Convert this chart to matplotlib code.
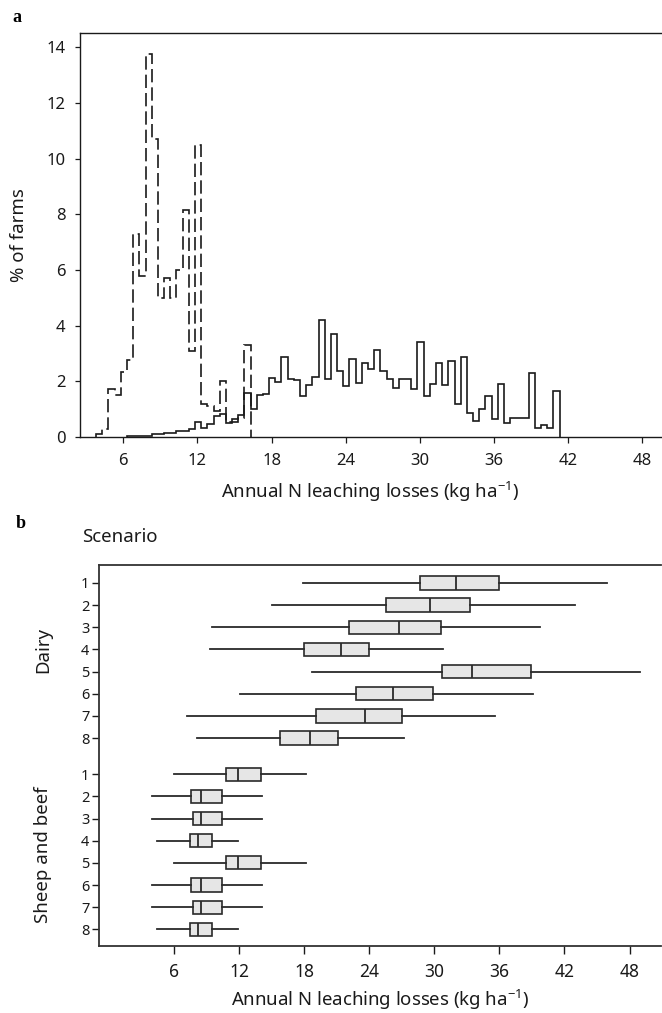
import numpy as np
import matplotlib
matplotlib.use("Agg")
import matplotlib.pyplot as plt

# ---------------- Panel a data (histograms, bin width 0.5) ----------------
dashed_start = 3.8
dashed_pct = [0.09, 0.29, 1.74, 1.5, 2.33, 2.75, 7.3, 5.8, 13.75, 10.7,
              5.0, 5.7, 5.0, 6.0, 8.15, 3.1, 10.5, 1.17, 1.12, 0.95,
              2.0, 0.55, 0.55, 0.7, 3.3]
solid_start = 6.3
solid_pct = [0.04, 0.04, 0.04, 0.04, 0.1, 0.1, 0.15, 0.15, 0.2, 0.22,
             0.3, 0.53, 0.33, 0.45, 0.77, 0.83, 0.5, 0.65, 0.8, 1.58,
             1.02, 1.5, 1.55, 2.12, 1.97, 2.87, 2.09, 2.05, 1.49, 1.85,
             2.15, 4.22, 2.1, 3.69, 2.37, 1.82, 2.79, 1.94, 2.67, 2.43,
             3.11, 2.36, 2.09, 1.77, 2.1, 2.1, 1.71, 3.41, 1.49, 1.91,
             2.67, 1.85, 2.73, 1.17, 2.87, 0.87, 0.57, 0.99, 1.49, 0.63,
             1.91, 0.51, 0.69, 0.69, 0.69, 2.31, 0.32, 0.44, 0.32, 1.65]
bin_width = 0.5
x_ticks = [6, 12, 18, 24, 30, 36, 42, 48]
y_ticks_a = [0, 2, 4, 6, 8, 10, 12, 14]

# ---------------- Panel b data (box plots) ----------------
groups = ["Dairy", "Sheep and beef"]
scenario_labels = ["1", "2", "3", "4", "5", "6", "7", "8"]
dairy_whislo = [17.9, 15.0, 9.5, 9.3, 18.7, 12.1, 7.2, 8.1]
dairy_q1 = [28.7, 25.5, 22.1, 18.0, 30.7, 22.8, 19.1, 15.8]
dairy_med = [32.0, 29.6, 26.7, 21.4, 33.5, 26.2, 23.6, 18.5]
dairy_q3 = [36.0, 33.3, 30.6, 24.0, 38.9, 29.9, 27.0, 21.1]
dairy_whishi = [45.9, 43.0, 39.7, 30.8, 49.0, 39.1, 35.6, 27.2]
sheep_whislo = [6.0, 4.0, 4.0, 4.4, 6.0, 4.0, 4.0, 4.4]
sheep_q1 = [10.8, 7.6, 7.75, 7.45, 10.8, 7.6, 7.75, 7.45]
sheep_med = [11.85, 8.5, 8.5, 8.2, 11.85, 8.5, 8.5, 8.2]
sheep_q3 = [14.0, 10.4, 10.4, 9.5, 14.0, 10.4, 10.4, 9.5]
sheep_whishi = [18.2, 14.1, 14.1, 11.9, 18.2, 14.1, 14.1, 11.9]

plt.rcParams['font.family'] = ['Noto Sans', 'DejaVu Sans']
plt.rcParams['mathtext.fontset'] = 'custom'
plt.rcParams['mathtext.rm'] = 'Noto Sans'

W, H = 662, 1013
fig = plt.figure(figsize=(W / 100, H / 100), dpi=100)

def px_axes(l, r, t, b):
    return fig.add_axes([l / W, 1 - b / H, (r - l) / W, (b - t) / H])

LC = "#1a1a1a"
XLABEL = r"Annual N leaching losses (kg ha$^{\mathregular{-1}}$)"
LABEL_FS = 13.4

# ---------------- Panel a ----------------
ax = px_axes(80, 661, 33, 437)
d_edges = dashed_start + bin_width * np.arange(len(dashed_pct) + 1)
s_edges = solid_start + bin_width * np.arange(len(solid_pct) + 1)
ax.stairs(dashed_pct, d_edges, baseline=0, color=LC, lw=1.2,
          linestyle=(0, (8, 3)))
ax.stairs(solid_pct, s_edges, baseline=0, color=LC, lw=1.2)
ax.set_xlim(2.5, 49.5)
ax.set_ylim(0, 14.51)
ax.set_xticks(x_ticks)
ax.set_yticks(y_ticks_a)
ax.tick_params(axis='x', labelsize=12, length=4, width=0.9, colors=LC, pad=7.2)
ax.tick_params(axis='y', labelsize=12, length=3.6, width=0.9, colors=LC, pad=7)
ax.spines['right'].set_visible(False)
for s in ax.spines.values():
    s.set_linewidth(1.0)
    s.set_color(LC)
ax.set_ylabel("% of farms", fontsize=LABEL_FS, color=LC, labelpad=13)
ax.set_xlabel(XLABEL, fontsize=LABEL_FS, color=LC, labelpad=8)

# ---------------- Panel b ----------------
axb = px_axes(99, 661, 565, 946.4)
gap = 1.63
pos_d = np.arange(8, dtype=float)
pos_s = pos_d + 7 + gap
positions = np.concatenate([pos_d, pos_s])
stats = []
for lo, q1, med, q3, hi in zip(dairy_whislo + sheep_whislo,
                               dairy_q1 + sheep_q1,
                               dairy_med + sheep_med,
                               dairy_q3 + sheep_q3,
                               dairy_whishi + sheep_whishi):
    stats.append(dict(whislo=lo, q1=q1, med=med, q3=q3, whishi=hi, fliers=[]))
axb.bxp(stats, positions=positions, widths=0.6, orientation='horizontal',
        showcaps=False, showfliers=False, patch_artist=True,
        boxprops=dict(facecolor="#e6e6e6", edgecolor="#2a2a2a", lw=1.2),
        whiskerprops=dict(color="#2a2a2a", lw=1.3),
        medianprops=dict(color="#2a2a2a", lw=1.3))
axb.set_ylim(16.4, -0.81)
axb.set_xlim(-0.93, 50.9)
axb.set_xticks(x_ticks)
axb.set_xticklabels([str(t) for t in x_ticks])
axb.set_yticks(positions)
axb.set_yticklabels(scenario_labels * 2)
axb.tick_params(axis='x', labelsize=12.5, length=6, width=1.0, colors=LC, pad=5.8)
axb.tick_params(axis='y', labelsize=10.5, length=5, width=1.0, colors=LC, pad=2)
axb.spines['right'].set_visible(False)
for s in axb.spines.values():
    s.set_linewidth(1.3)
    s.set_color("#333333")
axb.set_xlabel(XLABEL, fontsize=LABEL_FS, color=LC, labelpad=4.5)

# group labels
fig.text(43 / W, 1 - 650 / H, groups[0], rotation=90, ha='center',
         va='center', fontsize=LABEL_FS, color=LC)
fig.text(43 / W, 1 - 855 / H, groups[1], rotation=90, ha='center',
         va='center', fontsize=LABEL_FS, color=LC)
fig.text(82 / W, 1 - 537 / H, "Scenario", ha='left', va='center',
         fontsize=LABEL_FS, color=LC)

# panel letters
fig.text(12 / W, 1 - 17 / H, "a", ha='left', va='center', fontsize=13,
         fontweight='bold', family='Liberation Serif')
fig.text(16 / W, 1 - 524 / H, "b", ha='left', va='center', fontsize=13,
         fontweight='bold', family='Liberation Serif')

fig.savefig("out.png", dpi=100)
